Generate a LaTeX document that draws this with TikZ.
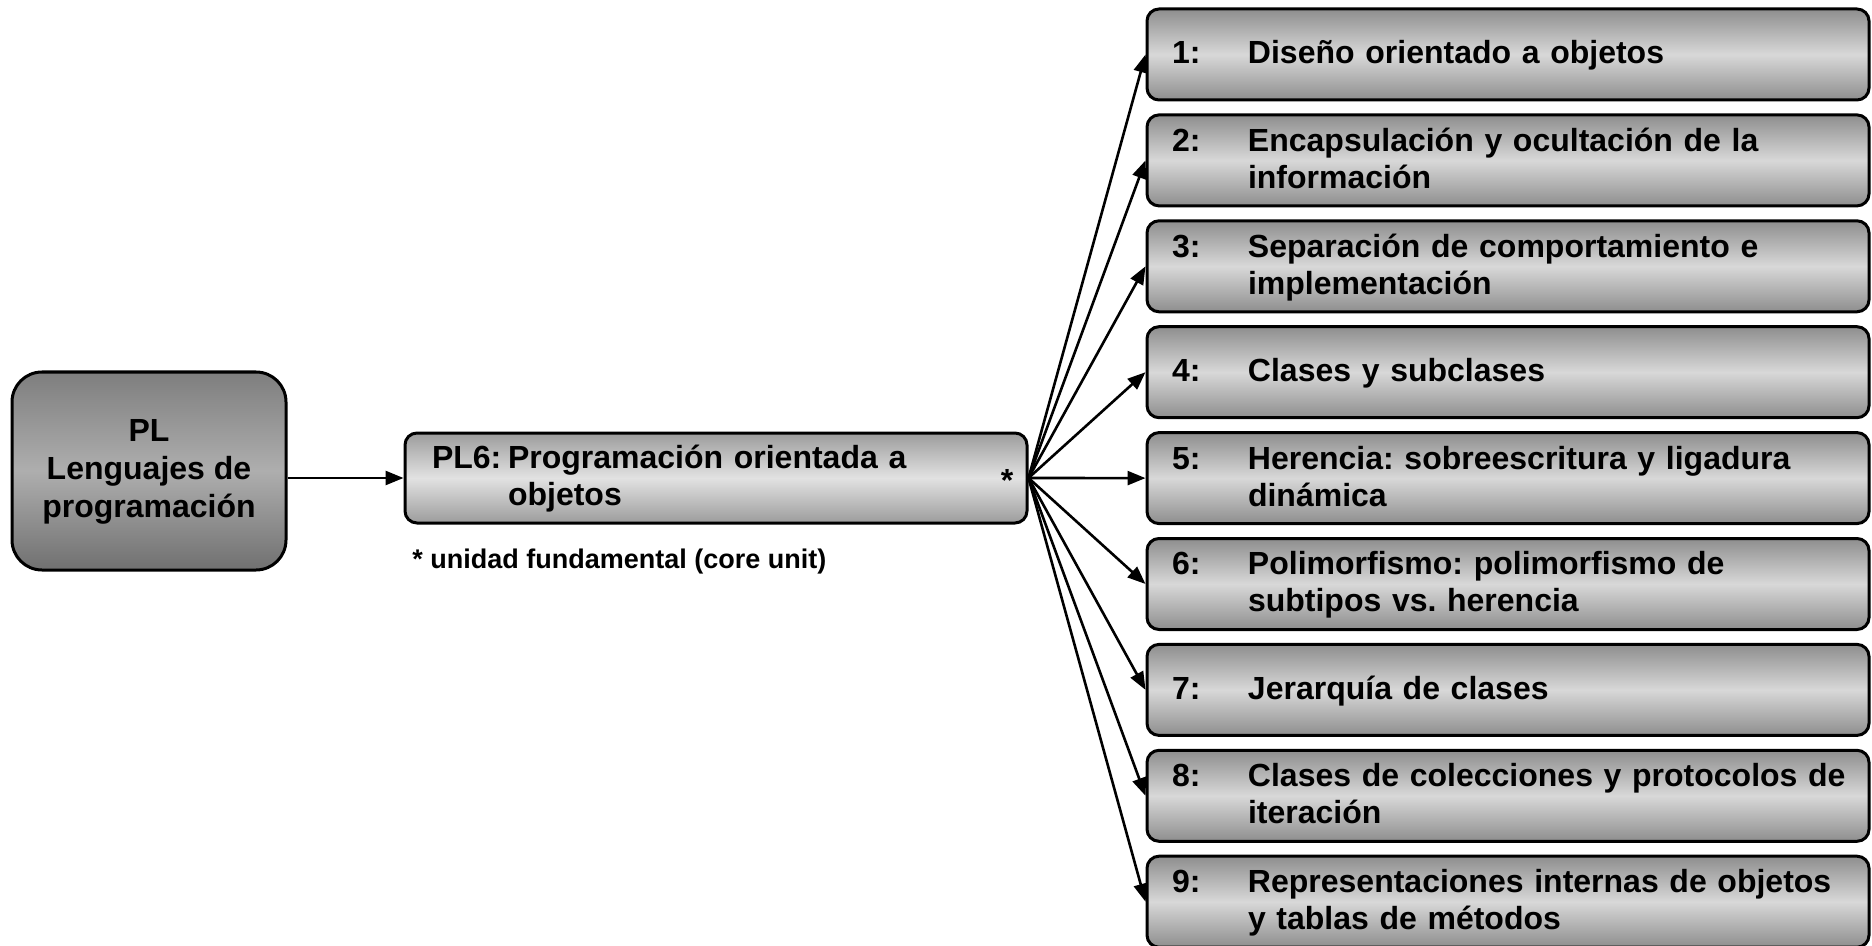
\documentclass[tikz,border=0pt]{standalone}
\usepackage{fontspec}
\setmainfont{Liberation Sans}
\usetikzlibrary{arrows.meta}
\frenchspacing
\definecolor{rOuter}{HTML}{8E8E8E}
\definecolor{rMid}{HTML}{D8D8D8}
\definecolor{plTop}{HTML}{7E7E7E}
\definecolor{plMid}{HTML}{AEAEAE}
\definecolor{plBot}{HTML}{707070}
\definecolor{sOuter}{HTML}{9C9C9C}
\definecolor{sMid}{HTML}{E2E2E2}
\newcommand\topstrt{\rule{0pt}{15pt}}
\newcommand\rowtext[2]{\begin{tabular}{@{}p{38pt}@{}l@{}}\topstrt#1 & #2\end{tabular}}
\tikzset{
  txt/.style={font=\fontsize{16pt}{18.5pt}\selectfont\bfseries},
  itembox/.style={txt, draw=black, line width=1.5pt, rounded corners=6pt,
    minimum width=361pt, minimum height=45.5pt, inner ysep=0pt, inner xsep=12.5pt,
    text width=336pt, align=left,
    top color=rOuter, bottom color=rOuter, middle color=rMid},
  plbox/.style={txt, draw=black, line width=1.5pt, rounded corners=15pt,
    minimum width=137pt, minimum height=99pt, inner sep=0pt, align=center,
    top color=plTop, bottom color=plBot, middle color=plMid},
  subbox/.style={txt, draw=black, line width=1.5pt, rounded corners=6pt,
    minimum width=311pt, minimum height=45pt, inner ysep=0pt, inner xsep=13.5pt,
    text width=284pt, align=left,
    top color=sOuter, bottom color=sOuter, middle color=sMid},
  arr/.style={line width=1.3pt, -{Triangle[length=9pt,width=7pt]}}
}
\begin{document}
\begin{tikzpicture}[x=0.5pt,y=-0.5pt]
\useasboundingbox (0,0) rectangle (1872,946);

\node[plbox] (pl) at (149,471) {\renewcommand\arraystretch{1.03}\begin{tabular}{@{}c@{}}\rule{0pt}{14.5pt}PL\\ Lenguajes de\\ programación\end{tabular}};

\node[subbox] (pl6) at (716,478) {\begin{tabular}{@{}p{38pt}@{}l@{}}\topstrt PL6: & Programación orientada a\\ & objetos\end{tabular}};
\node[txt, anchor=base, inner sep=0pt] (star) at (1007,491) {*};
\node[font=\fontsize{13.5pt}{16pt}\selectfont\bfseries, anchor=base west, inner sep=0pt] (note) at (412,568) {* unidad fundamental (core unit)};

\node[itembox] (b1) at (1508,54.5) {\rowtext{1:}{Diseño orientado a objetos}};
\node[itembox] (b2) at (1508,160.4) {\rowtext{2:}{Encapsulación y ocultación de la\\ & información}};
\node[itembox] (b3) at (1508,266.3) {\rowtext{3:}{Separación de comportamiento e\\ & implementación}};
\node[itembox] (b4) at (1508,372.2) {\rowtext{4:}{Clases y subclases}};
\node[itembox] (b5) at (1508,478.1) {\rowtext{5:}{Herencia: sobreescritura y ligadura\\ & dinámica}};
\node[itembox] (b6) at (1508,584.0) {\rowtext{6:}{Polimorfismo: polimorfismo de\\ & subtipos vs. herencia}};
\node[itembox] (b7) at (1508,689.9) {\rowtext{7:}{Jerarquía de clases}};
\node[itembox] (b8) at (1508,795.8) {\rowtext{8:}{Clases de colecciones y protocolos de\\ & iteración}};
\node[itembox] (b9) at (1508,901.7) {\rowtext{9:}{Representaciones internas de objetos\\ & y tablas de métodos}};

\draw[arr] (pl6.west -| pl.east) -- (pl6.west);
\foreach \i in {1,...,9} \draw[arr] (pl6.east) -- (b\i.west);
\end{tikzpicture}
\end{document}
